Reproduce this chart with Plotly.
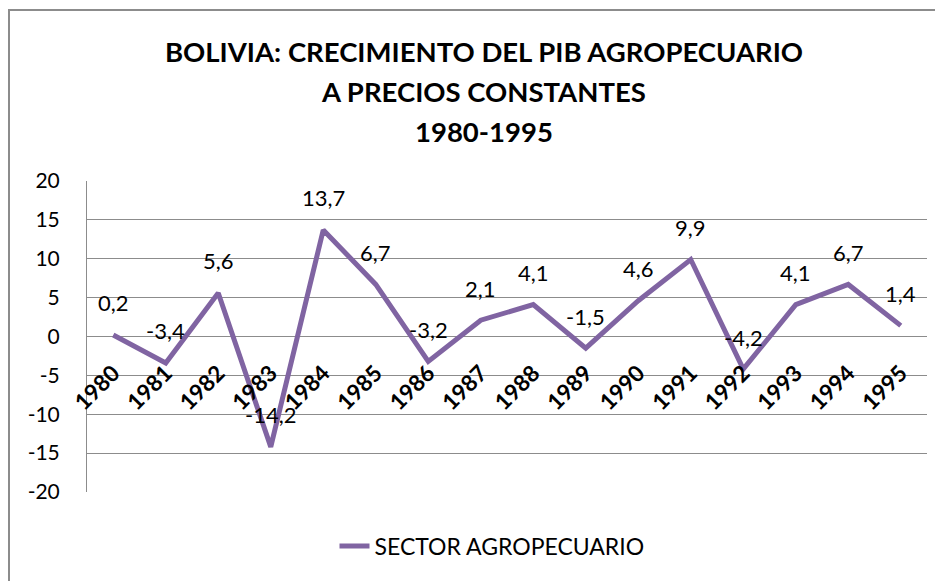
import plotly.graph_objects as go

years = ["1980", "1981", "1982", "1983", "1984", "1985", "1986", "1987",
         "1988", "1989", "1990", "1991", "1992", "1993", "1994", "1995"]
values = [0.2, -3.4, 5.6, -14.2, 13.7, 6.7, -3.2, 2.1,
          4.1, -1.5, 4.6, 9.9, -4.2, 4.1, 6.7, 1.4]
title_lines = ["BOLIVIA: CRECIMIENTO DEL PIB AGROPECUARIO",
               "A PRECIOS CONSTANTES", "1980-1995"]
series_name = "SECTOR AGROPECUARIO"
y_ticks = [-20, -15, -10, -5, 0, 5, 10, 15, 20]
y_tick_text = ["-20", "-15", "-10", "-5", "0", "5", "10", "15", "20"]

FONT = "Lato"
PURPLE = "#8064A2"
GRID = "#8c8c8c"

# page body has an 8px margin: the figure starts at (8, 8) in the window
OFF = 8
W, H = 943 - OFF, 581 - OFF
L, R, T, B = 87 - OFF, 16, 181 - OFF, 89
PW, PH = W - L - R, H - T - B


def px_x(x):
    return (x - OFF - L) / PW


def px_y(y):
    return (H - B - (y - OFF)) / PH


fig = go.Figure()
fig.add_trace(go.Scatter(
    x=years, y=values, mode="lines", name=series_name,
    line=dict(color=PURPLE, width=5),
))

# data labels
for i, v in enumerate(values):
    fig.add_annotation(
        x=i, y=v, xref="x", yref="y",
        text=f"{v:.1f}".replace(".", ","), showarrow=False,
        yshift=32, font=dict(family=FONT, size=22, color="#000000"),
    )

# title lines
title_px = [51, 91, 131]
for t, yy in zip(title_lines, title_px):
    fig.add_annotation(
        xref="paper", yref="paper", x=px_x(483.5), y=px_y(yy), text=f"<b>{t}</b>",
        showarrow=False, xanchor="center", yanchor="middle",
        font=dict(family=FONT, size=27.5, color="#000000"),
    )

fig.update_layout(
    width=W, height=H,
    margin=dict(l=L, r=R, t=T, b=B),
    paper_bgcolor="white", plot_bgcolor="white",
    showlegend=True,
    legend=dict(orientation="h", x=px_x(492), xanchor="center",
                y=px_y(546), yanchor="middle",
                font=dict(family=FONT, size=23, color="#000000")),
    xaxis=dict(
        type="category", range=[-0.5, 15.5], showgrid=False, zeroline=False,
        showline=False, anchor="free", position=0.5, tickangle=-45,
        ticks="", ticklabelstandoff=18,
        tickfont=dict(family=FONT, size=22.5, color="#000000", weight="bold"),
    ),
    yaxis=dict(
        range=[-20, 20], tickvals=y_ticks, ticktext=y_tick_text,
        showgrid=True, gridcolor=GRID,
        gridwidth=1, zeroline=False, showline=True, linecolor=GRID,
        linewidth=1, ticks="", ticklabelstandoff=22,
        tickfont=dict(family=FONT, size=21, color="#000000"),
    ),
    shapes=[dict(type="rect", xref="paper", yref="paper",
                 x0=px_x(9), x1=px_x(970), y0=px_y(600), y1=px_y(10),
                 line=dict(color="#8c8c8c", width=2), layer="below")],
)

fig.write_html("out.html")
